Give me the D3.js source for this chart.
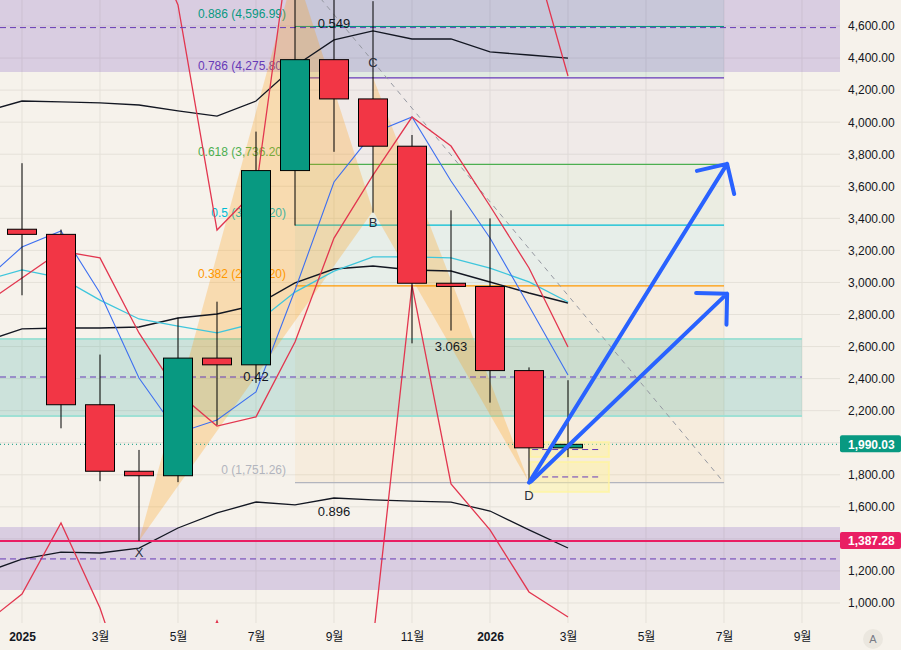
<!DOCTYPE html>
<html>
<head>
<meta charset="utf-8">
<script src="https://cdn.jsdelivr.net/npm/d3@7"></script>
<style>
  body { margin: 0; background: #f6f2eb; }
  svg { display: block; font-family: "Liberation Sans", "Noto Sans CJK KR", sans-serif; }
</style>
</head>
<body>
<div id="chart"></div>
<script>
const width = 901;
const height = 650;
const plotW = 840;
const plotH = 623;

// month index 0 = 2025-01
const candleIdx = d3.range(0, 15);
const opens  = [3332, 3300, 2237, 1822, 1794, 2528, 2486, 3698, 4390, 4145, 3850, 2995, 2975, 2450, 1968];
const highs  = [3744, 3330, 2550, 1955, 2780, 2880, 3941, 4956, 4770, 4755, 3920, 3450, 3400, 2470, 2390];
const lows   = [2920, 2090, 1760, 1387.28, 1754, 2111, 2373, 3355, 3815, 3435, 2620, 2700, 2250, 1751.26, 1910];
const closes = [3300, 2237, 1822, 1794, 2528, 2486, 3698, 4390, 4145, 3850, 2995, 2975, 2450, 1968, 1990.03];

// indicator lines, starting one month earlier (2024-12)
const lineIdx = d3.range(-1, 15);
const bbUpper = [4063, 4132, 4126, 4120, 4107, 4070, 4038, 4132, 4350, 4513, 4569, 4519, 4519, 4438, 4419, 4400];
const bbMid   = [2628, 2710, 2716, 2716, 2722, 2778, 2803, 2859, 2997, 3084, 3103, 3078, 3071, 3003, 2934, 2872];
const bbLower = [1187, 1274, 1318, 1312, 1343, 1468, 1562, 1630, 1612, 1655, 1643, 1636, 1630, 1574, 1456, 1343];
const cyanLine = [3009, 3078, 3028, 2890, 2772, 2728, 2685, 2747, 2940, 3071, 3159, 3159, 3153, 3090, 3003, 2878];
const blueLine = [3003, 3221, 3321, 2934, 2404, 2061, 2142, 2317, 2953, 3627, 3932, 4032, 3633, 3277, 2853, 2423];
const redMid   = [2859, 3028, 3196, 3153, 2685, 2310, 2104, 2161, 2628, 3277, 3670, 4032, 3851, 3477, 3090, 2597];
const redUpper = [5200, 5400, 5500, 5450, 5300, 4731, 3327, 3577, 5355, 5700, 5900, 5900, 5700, 5450, 5149, 4288];
const redLower = [863, 1056, 1499, 969, 250, 300, 888, 300, 300, 200, 763, 2984, 1743, 1456, 1069, 913];

// zones
const bandLow  = [4313, 1081, 2167];
const bandHigh = [4875, 1474, 2647];
const bandMid  = [4590, 1275, 2410];
const bandEnd  = [21.6, 21.6, 20];

// fibonacci retracement
const fibStart = 7, fibEnd = 18;
const fibLow = 1751.26, fibHigh = 4963.14;
const fibLevels = [0, 0.382, 0.5, 0.618, 0.786, 0.886, 1];
const fibColors = ["#b2b5be", "#ff9800", "#00bcd4", "#4caf50", "#673ab7", "#089981", "#089981"];
const fibFillOpacity = [0.06, 0.06, 0.06, 0.04, 0.09, 0.09];

// XABCD pattern
const patNames  = ["X", "A", "B", "C", "D"];
const patIdx    = [3, 7, 9, 9, 13];
const patPrice  = [1387.28, 4956, 3445, 4278, 1751.26];
const ratioText = ["0.42", "0.549", "3.063", "0.896"];
const ratioPair = [[0, 2], [1, 3], [2, 4], [0, 4]];

// drawings near D
const boxFrom = 13.03, boxTo = 15.05;
const boxLow  = [1911, 1693];
const boxHigh = [2004, 1880];
const arrowFrom = [[13, 1751.26], [13.05, 1758]];
const arrowTo   = [[18.08, 3740], [18.08, 2930]];

const lastPrice = 1990.03;
const supportPrice = 1387.28;

const priceTicks = d3.range(1000, 4601, 200);
const timeTicks = d3.range(0, 21, 2);

const x = d3.scaleLinear().domain([0, 20]).range([22, 802]);
const y = d3.scaleLinear().domain([1000, 4600]).range([603, 26]);

const svg = d3.select("#chart").append("svg")
  .attr("width", width)
  .attr("height", height);

svg.append("rect").attr("width", width).attr("height", height).attr("fill", "#f6f2eb");

svg.append("defs").append("clipPath").attr("id", "plot")
  .append("rect").attr("width", plotW).attr("height", plotH);

const g = svg.append("g").attr("clip-path", "url(#plot)");

// grid
g.selectAll(".hgrid").data(priceTicks).enter().append("line")
  .attr("class", "hgrid")
  .attr("x1", 0).attr("x2", plotW)
  .attr("y1", d => y(d)).attr("y2", d => y(d))
  .attr("stroke", "#e5e1d9");

g.selectAll(".vgrid").data(timeTicks).enter().append("line")
  .attr("class", "vgrid")
  .attr("x1", d => x(d)).attr("x2", d => x(d))
  .attr("y1", 0).attr("y2", plotH)
  .attr("stroke", "#e5e1d9");

// fib fills
const fibY = r => y(fibLow + r * (fibHigh - fibLow));
for (let i = 0; i < fibLevels.length - 1; i++) {
  g.append("rect")
    .attr("x", x(fibStart))
    .attr("width", x(fibEnd) - x(fibStart))
    .attr("y", fibY(fibLevels[i + 1]))
    .attr("height", fibY(fibLevels[i]) - fibY(fibLevels[i + 1]))
    .attr("fill", fibColors[i + 1])
    .attr("fill-opacity", fibFillOpacity[i]);
}

// zones
bandLow.forEach((lo, i) => {
  const purple = i < 2;
  g.append("rect")
    .attr("x", 0)
    .attr("width", Math.min(plotW, x(bandEnd[i])))
    .attr("y", y(bandHigh[i]))
    .attr("height", y(lo) - y(bandHigh[i]))
    .attr("fill", purple ? "#673ab7" : "#26a69a")
    .attr("fill-opacity", 0.2);
  if (!purple) {
    [lo, bandHigh[i]].forEach(p => {
      g.append("line")
        .attr("x1", 0).attr("x2", x(bandEnd[i]))
        .attr("y1", y(p)).attr("y2", y(p))
        .attr("stroke", "#9fe0d4").attr("stroke-width", 2);
    });
  }
});

// fib lines and labels
fibLevels.forEach((r, i) => {
  g.append("line")
    .attr("x1", x(fibStart)).attr("x2", x(fibEnd))
    .attr("y1", fibY(r)).attr("y2", fibY(r))
    .attr("stroke", fibColors[i]).attr("stroke-width", 1.2);
  if (fibY(r) - 20 < 0) return;
  g.append("text")
    .attr("x", x(fibStart) - 9)
    .attr("y", fibY(r) - 12.5)
    .attr("dy", "0.35em")
    .attr("text-anchor", "end")
    .attr("fill", fibColors[i])
    .style("font-size", "12px")
    .text(`${r} (${d3.format(",.2f")(fibLow + r * (fibHigh - fibLow))})`);
});

g.append("line")
  .attr("x1", x(fibStart)).attr("y1", y(fibHigh))
  .attr("x2", x(fibEnd)).attr("y2", y(fibLow))
  .attr("stroke", "#9598a1").attr("stroke-dasharray", "5,5");

// XABCD triangles
const pt = k => [x(patIdx[k]), y(patPrice[k])];
[[0, 1, 2], [2, 3, 4]].forEach(tri => {
  g.append("path")
    .attr("d", "M" + tri.map(k => pt(k).join(",")).join("L") + "Z")
    .attr("fill", "#ff9800")
    .attr("fill-opacity", 0.25);
});

// indicator lines
const line = d3.line().x((d, i) => x(lineIdx[i])).y(d => y(d));
const series = [
  [bbUpper, "#131722", 1.3], [bbMid, "#131722", 1.4], [bbLower, "#131722", 1.3],
  [cyanLine, "#3fc6dc", 1.3], [blueLine, "#3d6ff0", 1.1],
  [redMid, "#e2364f", 1.3], [redUpper, "#e2364f", 1.3], [redLower, "#e2364f", 1.3]
];
series.forEach(([vals, col, w]) => {
  g.append("path")
    .datum(vals)
    .attr("d", line)
    .attr("fill", "none")
    .attr("stroke", col)
    .attr("stroke-width", w);
});

// horizontal lines
bandMid.forEach((p, i) => {
  g.append("line")
    .attr("x1", 0).attr("x2", Math.min(plotW, x(bandEnd[i])))
    .attr("y1", y(p)).attr("y2", y(p))
    .attr("stroke", "#673ab7").attr("stroke-dasharray", "6,4");
});

g.append("line")
  .attr("x1", 0).attr("x2", plotW)
  .attr("y1", y(lastPrice)).attr("y2", y(lastPrice))
  .attr("stroke", "#089981").attr("stroke-dasharray", "1,3");

g.append("line")
  .attr("x1", 0).attr("x2", plotW)
  .attr("y1", y(supportPrice)).attr("y2", y(supportPrice))
  .attr("stroke", "#e91e63").attr("stroke-width", 2);

// yellow boxes
boxLow.forEach((lo, i) => {
  g.append("rect")
    .attr("x", x(boxFrom)).attr("width", x(boxTo) - x(boxFrom))
    .attr("y", y(boxHigh[i])).attr("height", y(lo) - y(boxHigh[i]))
    .attr("fill", "#fff59d").attr("fill-opacity", 0.45)
    .attr("stroke", "#fff59d").attr("stroke-opacity", 0.7).attr("stroke-width", 2);
  const mid = (lo + boxHigh[i]) / 2;
  g.append("line")
    .attr("x1", x(boxFrom) + 2).attr("x2", x(boxTo) - 7)
    .attr("y1", y(mid)).attr("y2", y(mid))
    .attr("stroke", "#673ab7").attr("stroke-dasharray", "6,4");
});

// candles
const bodyW = 29;
const candle = g.selectAll(".candle").data(candleIdx).enter().append("g").attr("class", "candle");
candle.append("line")
  .attr("x1", i => x(i)).attr("x2", i => x(i))
  .attr("y1", i => y(highs[i])).attr("y2", i => y(lows[i]))
  .attr("stroke", "#000");
candle.append("rect")
  .attr("x", i => x(i) - bodyW / 2)
  .attr("width", bodyW)
  .attr("y", i => y(Math.max(opens[i], closes[i])))
  .attr("height", i => Math.max(2, Math.abs(y(opens[i]) - y(closes[i]))))
  .attr("fill", i => closes[i] >= opens[i] ? "#089981" : "#f23645")
  .attr("stroke", "#000");

// pattern labels
const labelOffset = { X: 12, A: -14, B: 11, C: -15, D: 13 };
patNames.forEach((n, k) => {
  const ly = pt(k)[1] + labelOffset[n];
  if (ly < 8) return;
  g.append("text")
    .attr("x", pt(k)[0]).attr("y", ly)
    .attr("dy", "0.35em").attr("text-anchor", "middle")
    .attr("fill", "#2a2e39").style("font-size", "13px")
    .text(n);
});
ratioPair.forEach(([a, b], i) => {
  g.append("text")
    .attr("x", (pt(a)[0] + pt(b)[0]) / 2)
    .attr("y", (pt(a)[1] + pt(b)[1]) / 2)
    .attr("dy", "0.35em").attr("text-anchor", "middle")
    .attr("fill", "#131722").style("font-size", "13px")
    .text(ratioText[i]);
});

// arrows
arrowFrom.forEach((f, i) => {
  const x0 = x(f[0]), y0 = y(f[1]);
  const x1 = x(arrowTo[i][0]), y1 = y(arrowTo[i][1]);
  const ang = Math.atan2(y0 - y1, x0 - x1);
  const len = 31, spread = Math.PI / 4;
  const w1 = [x1 + len * Math.cos(ang + spread), y1 + len * Math.sin(ang + spread)];
  const w2 = [x1 + len * Math.cos(ang - spread), y1 + len * Math.sin(ang - spread)];
  g.append("path")
    .attr("d", `M${x0},${y0}L${x1},${y1}M${w1}L${x1},${y1}L${w2}`)
    .attr("fill", "none")
    .attr("stroke", "#2962ff")
    .attr("stroke-width", 4)
    .attr("stroke-linecap", "round")
    .attr("stroke-linejoin", "round");
});

// price axis (ticks hidden behind the price markers are dropped)
const markers = [[lastPrice, "#089981"], [supportPrice, "#e91e63"]];
const shownTicks = priceTicks.filter(t => markers.every(([p]) => Math.abs(y(t) - y(p)) > 14));
const yAxis = svg.append("g")
  .attr("transform", `translate(${plotW},0)`)
  .call(d3.axisRight(y).tickValues(shownTicks).tickFormat(d3.format(",.2f")).tickSize(0).tickPadding(8));
yAxis.attr("font-size", null).attr("font-family", null);
yAxis.select(".domain").remove();
yAxis.selectAll("text").attr("fill", "#131722").style("font-size", "12px");

markers.forEach(([p, col]) => {
  svg.append("rect")
    .attr("x", plotW).attr("y", y(p) - 9)
    .attr("width", 61).attr("height", 17).attr("rx", 2)
    .attr("fill", col);
  svg.append("text")
    .attr("x", plotW + 8).attr("y", y(p))
    .attr("dy", "0.35em")
    .attr("fill", "#fff").style("font-size", "12px").style("font-weight", "bold")
    .text(d3.format(",.2f")(p));
});

// time axis
const xAxis = svg.append("g")
  .attr("transform", `translate(0,${plotH})`)
  .call(d3.axisBottom(x).tickValues(timeTicks).tickSize(0).tickPadding(9)
    .tickFormat(i => i % 12 === 0 ? String(2025 + i / 12) : `${(i % 12) + 1}월`));
xAxis.attr("font-size", null).attr("font-family", null);
xAxis.select(".domain").remove();
xAxis.selectAll("text")
  .attr("fill", "#131722")
  .style("font-size", "12px")
  .style("font-weight", i => i % 12 === 0 ? "bold" : "normal");

svg.append("circle").attr("cx", 873).attr("cy", 639).attr("r", 10).attr("fill", "#ebe7df");
svg.append("text").attr("x", 873).attr("y", 639).attr("dy", "0.35em")
  .attr("text-anchor", "middle").attr("fill", "#787b86").style("font-size", "11px").text("A");
</script>
</body>
</html>
